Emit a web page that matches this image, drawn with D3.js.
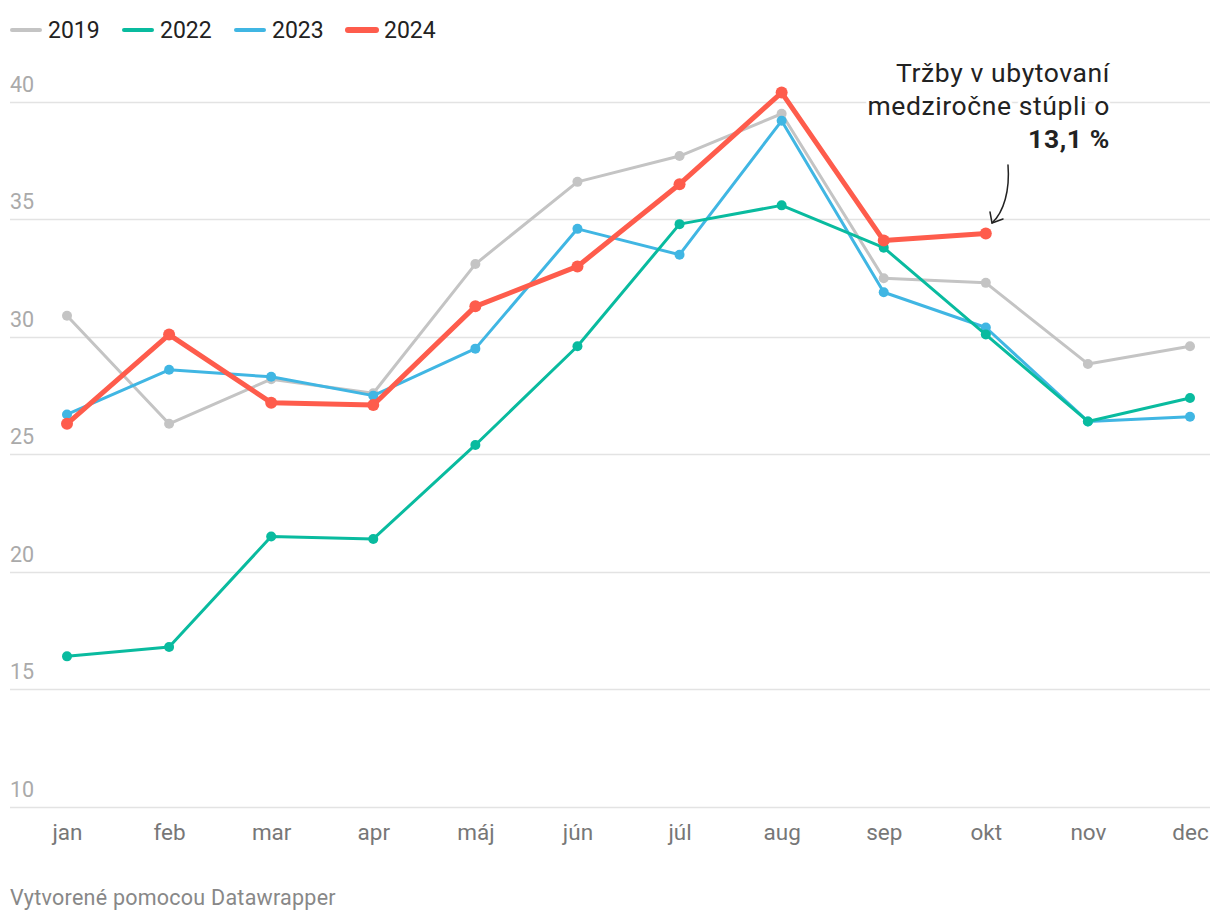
<!DOCTYPE html>
<html><head><meta charset="utf-8">
<script src="https://cdn.jsdelivr.net/npm/d3@7"></script>
<style>
body{margin:0;background:#fff;}
text{font-family:Roboto,"Noto Sans",sans-serif;}
</style></head>
<body><svg id="c" width="1220" height="924"></svg>
<script>
const months = ["jan","feb","mar","apr","máj","jún","júl","aug","sep","okt","nov","dec"];
const yTicks = [10,15,20,25,30,35,40];
const seriesNames = ["2019","2022","2023","2024"];
const v2019 = [30.9,26.3,28.2,27.6,33.1,36.6,37.7,39.5,32.5,32.3,28.85,29.6];
const v2022 = [16.4,16.8,21.5,21.4,25.4,29.6,34.8,35.6,33.8,30.1,26.4,27.4];
const v2023 = [26.7,28.6,28.3,27.5,29.5,34.6,33.5,39.2,31.9,30.4,26.4,26.6];
const v2024 = [26.3,30.1,27.2,27.1,31.3,33.0,36.5,40.4,34.1,34.4];
const colors = {"2019":"#c4c4c4","2022":"#09bb9f","2023":"#40b6e3","2024":"#fe5c4c"};
const widths = {"2019":3,"2022":3,"2023":3,"2024":5};
const radii = {"2019":5,"2022":5,"2023":5,"2024":6};
const annoLines = ["Tržby v ubytovaní","medziročne stúpli o"];
const annoBold = "13,1 %";
const footer = "Vytvorené pomocou Datawrapper";

const dataMap = {"2019":v2019,"2022":v2022,"2023":v2023,"2024":v2024};
const svg = d3.select("#c");
const x = d3.scalePoint().domain(months).range([67,1190]);
const y = d3.scaleLinear().domain([10,40]).range([806.7,102]);

// grid
const g = svg.append("g");
g.selectAll("line.grid").data(yTicks).join("line")
  .attr("x1",10).attr("x2",1210)
  .attr("y1",d=>Math.round(y(d))+0.5).attr("y2",d=>Math.round(y(d))+0.5)
  .attr("stroke","#e3e3e3").attr("stroke-width",1.5);
g.selectAll("text.yl").data(yTicks).join("text")
  .attr("x",10).attr("y",d=>y(d)-10)
  .attr("fill","#aaaaaa").attr("font-size",21.5).text(d=>d);

// x axis labels
const xa = d3.axisBottom(x).tickSize(0).tickPadding(0);
const xg = svg.append("g").attr("transform","translate(0,840)").call(xa);
xg.select(".domain").remove();
xg.selectAll("text").attr("font-size",22.5).attr("fill","#777").attr("font-family","Roboto").attr("y",0).attr("dy",0);

// lines
const line = d3.line().x((d,i)=>x(months[i])).y(d=>y(d));
const order = ["2019","2023","2022","2024"];
order.forEach(s=>{
  const vals = dataMap[s];
  const gg = svg.append("g");
  gg.append("path").datum(vals).attr("d",line).attr("fill","none")
    .attr("stroke",colors[s]).attr("stroke-width",widths[s])
    .attr("stroke-linejoin","round").attr("stroke-linecap","round");
  gg.selectAll("circle").data(vals).join("circle")
    .attr("cx",(d,i)=>x(months[i])).attr("cy",d=>y(d)).attr("r",radii[s])
    .attr("fill",colors[s]);
});

// legend
const leg = svg.append("g");
const legX = [10,122,234,346];
seriesNames.forEach((s,i)=>{
  leg.append("line").attr("x1",legX[i]+2).attr("x2",legX[i]+30).attr("y1",30).attr("y2",30)
    .attr("stroke",colors[s]).attr("stroke-width",s==="2024"?6:4).attr("stroke-linecap","round");
  leg.append("text").attr("x",legX[i]+38).attr("y",38).attr("font-size",23).attr("fill","#222").text(s);
});

// annotation
const an = svg.append("g");
const at = an.append("text").attr("text-anchor","end").attr("font-size",26.5).attr("letter-spacing",0.6).attr("fill","#222");
annoLines.forEach((t,i)=>{
  at.append("tspan").attr("x",1110).attr("y",82+i*33).text(t);
});
at.append("tspan").attr("x",1110).attr("y",148).attr("font-weight","bold").text(annoBold);
// halo
at.clone(true).lower().attr("stroke","#fff").attr("stroke-width",6).attr("stroke-linejoin","round");
an.append("path").attr("d","M1008,165 C1010,190 1004,212 992,223").attr("fill","none")
  .attr("stroke","#222").attr("stroke-width",1.5).attr("stroke-linecap","round");
an.append("path").attr("d","M990,212 L992,223 L1003,219").attr("fill","none")
  .attr("stroke","#222").attr("stroke-width",1.5).attr("stroke-linecap","round").attr("stroke-linejoin","round");

// footer
svg.append("text").attr("x",10).attr("y",905).attr("font-size",21.5).attr("letter-spacing",0.25).attr("fill","#888").text(footer);
</script></body></html>
